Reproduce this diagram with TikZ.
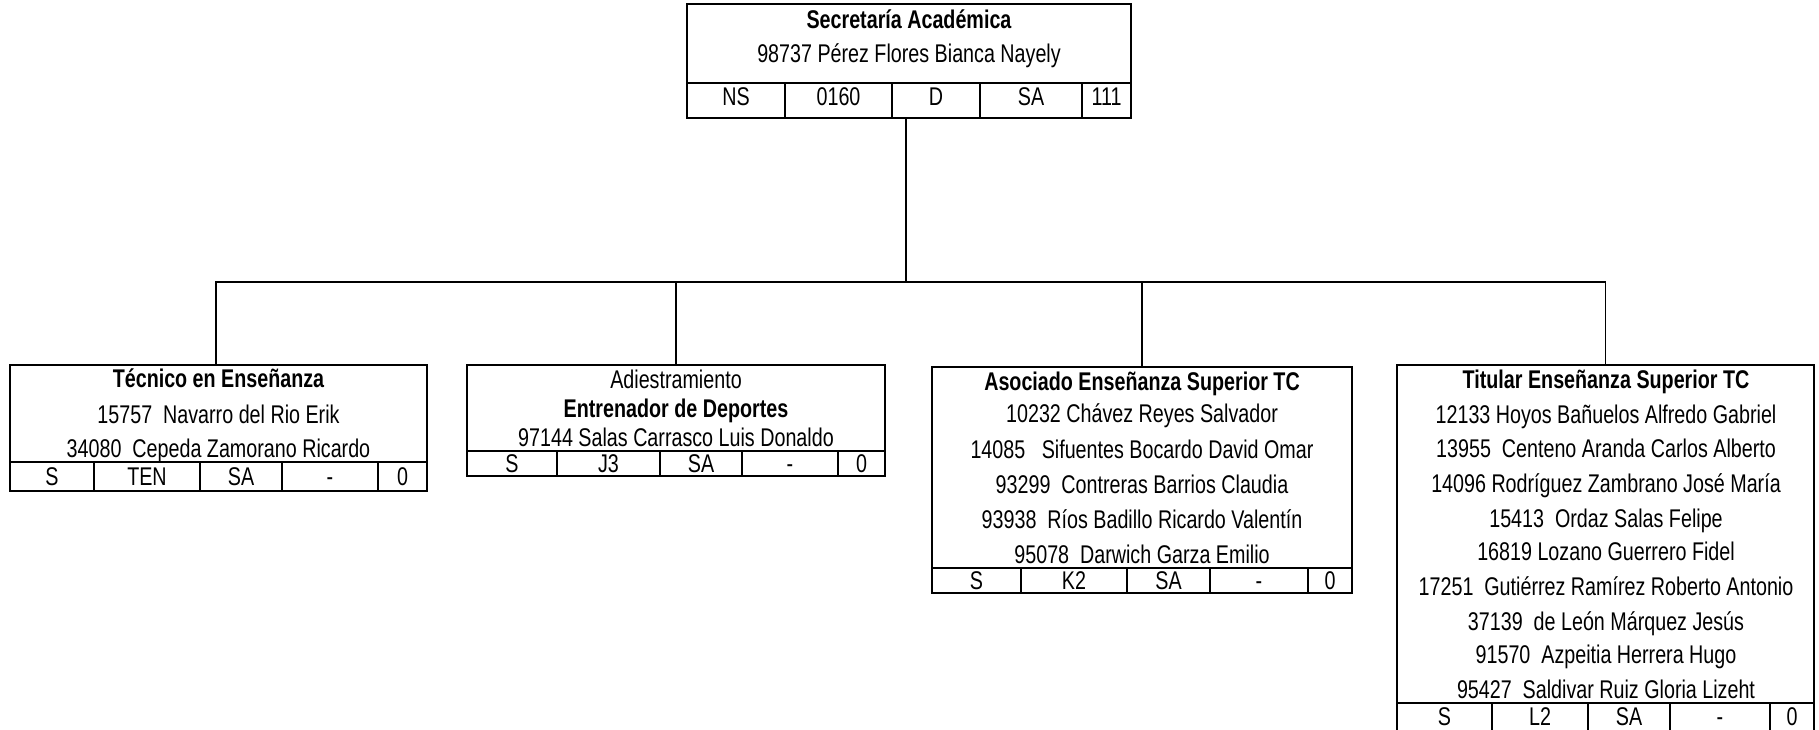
\documentclass[tikz,border=0pt]{standalone}
\usepackage{fontspec}
\setmainfont{Liberation Sans}[FakeStretch=0.77]
\usetikzlibrary{fit}

\begin{document}
\begin{tikzpicture}[x=0.5pt,y=-0.5pt,font=\fontsize{12.8}{15}\selectfont,
  box/.style={draw,line width=1.4pt,inner sep=0pt},
  grid/.style={line width=1.2pt},
  txt/.style={anchor=base,inner sep=0pt},
  link/.style={line width=0.6pt}]
  \path[use as bounding box] (0,0) rectangle (1819,729);

  % Frames, fitted to pixel corners (y runs downwards).
  \node[box,fit={(687,4) (1131,118)}] (sec) {};
  \node[box,fit={(10,365) (427,491)}] (tec) {};
  \node[box,fit={(467,365) (885,476)}] (adi) {};
  \node[box,fit={(932,367) (1352,593)}] (aso) {};
  \node[box,fit={(1397,365) (1814,736)}] (tit) {};

  % Head of the tree.
  \foreach \t/\y [count=\i] in {{\bfseries Secretaría Académica}/28,98737 Pérez Flores Bianca Nayely/62}
    \node[txt] (sec-l\i) at (909,\y) {\t};
  \draw[grid] (687,83) -- (1131,83);
  \foreach \x in {785,892,980,1082} \draw[grid] (\x,83) -- (\x,118);
  \foreach \xl/\xr/\t [count=\i] in {687/785/NS,785/892/0160,892/980/D,980/1082/SA,1082/1131/111}
    \node[txt] (sec-c\i) at ({(\xl+\xr)/2},105) {\t};

  % Técnico en Enseñanza
  \foreach \t/\y [count=\i] in {{\bfseries Técnico en Enseñanza}/387,15757\ \ Navarro del Rio Erik/423,34080\ \ Cepeda Zamorano Ricardo/457}
    \node[txt] (tec-l\i) at (218.5,\y) {\t};
  \draw[grid] (10,462) -- (427,462);
  \foreach \x in {94,200,282,378} \draw[grid] (\x,462) -- (\x,491);
  \foreach \xl/\xr/\t [count=\i] in {10/94/S,94/200/TEN,200/282/SA,282/378/-,378/427/0}
    \node[txt] (tec-c\i) at ({(\xl+\xr)/2},485) {\t};

  % Adiestramiento
  \foreach \t/\y [count=\i] in {Adiestramiento/388,{\bfseries Entrenador de Deportes}/417,97144 Salas Carrasco Luis Donaldo/446}
    \node[txt] (adi-l\i) at (676,\y) {\t};
  \draw[grid] (467,451) -- (885,451);
  \foreach \x in {557,660,742,838} \draw[grid] (\x,451) -- (\x,476);
  \foreach \xl/\xr/\t [count=\i] in {467/557/S,557/660/J3,660/742/SA,742/838/-,838/885/0}
    \node[txt] (adi-c\i) at ({(\xl+\xr)/2},472) {\t};

  % Asociado
  \foreach \t/\y [count=\i] in {{\bfseries Asociado Enseñanza Superior TC}/390,10232 Chávez Reyes Salvador/422,
    14085\ \ \ Sifuentes Bocardo David Omar/458,93299\ \ Contreras Barrios Claudia/493,
    93938\ \ Ríos Badillo Ricardo Valentín/528,95078\ \ Darwich Garza Emilio/563}
    \node[txt] (aso-l\i) at (1142,\y) {\t};
  \draw[grid] (932,568) -- (1352,568);
  \foreach \x in {1021,1127,1210,1308} \draw[grid] (\x,568) -- (\x,593);
  \foreach \xl/\xr/\t [count=\i] in {932/1021/S,1021/1127/K2,1127/1210/SA,1210/1308/-,1308/1352/0}
    \node[txt] (aso-c\i) at ({(\xl+\xr)/2},589) {\t};

  % Titular
  \foreach \t/\y [count=\i] in {{\bfseries Titular Enseñanza Superior TC}/388,12133 Hoyos Bañuelos Alfredo Gabriel/423,
    13955\ \ Centeno Aranda Carlos Alberto/457,14096 Rodríguez Zambrano José María/492,
    15413\ \ Ordaz Salas Felipe/527,16819 Lozano Guerrero Fidel/560,
    17251\ \ Gutiérrez Ramírez Roberto Antonio/595,37139\ \ de León Márquez Jesús/630,
    91570\ \ Azpeitia Herrera Hugo/663,95427\ \ Saldivar Ruiz Gloria Lizeht/698}
    \node[txt] (tit-l\i) at (1606,\y) {\t};
  \draw[grid] (1397,703) -- (1814,703);
  \foreach \x in {1492,1588,1670,1770} \draw[grid] (\x,703) -- (\x,736);
  \foreach \xl/\xr/\t [count=\i] in {1397/1492/S,1492/1588/L2,1588/1670/SA,1670/1770/-,1770/1814/0}
    \node[txt] (tit-c\i) at ({(\xl+\xr)/2},725) {\t};

  % Connectors
  \coordinate (hub) at (906,282);
  \draw[link] ([xshift=-1.5pt]sec.south) -- (hub);
  \draw[link] (hub) -| ([xshift=-1.25pt]tec.north);
  \foreach \b in {adi,aso,tit}
    \draw[link] (hub) -| (\b.north);
\end{tikzpicture}
\end{document}
